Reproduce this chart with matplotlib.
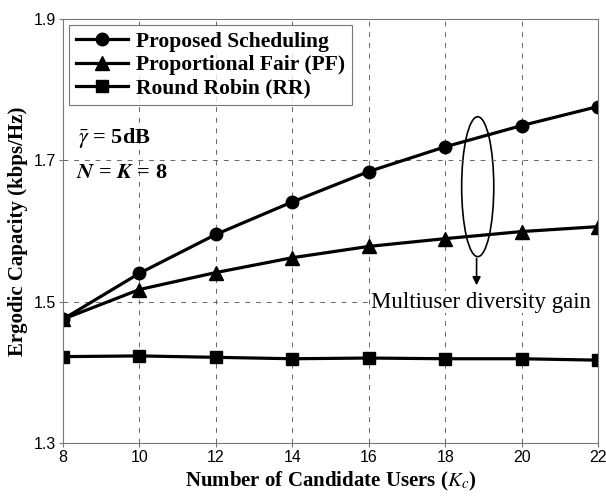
import matplotlib
matplotlib.use('Agg')
import matplotlib.pyplot as plt
from matplotlib.patches import Ellipse

# data
users = [8, 10, 12, 14, 16, 18, 20, 22]
proposed = [1.475, 1.540, 1.595, 1.641, 1.684, 1.719, 1.749, 1.776]
pf = [1.475, 1.517, 1.541, 1.562, 1.578, 1.589, 1.599, 1.606]
rr = [1.422, 1.423, 1.421, 1.419, 1.420, 1.419, 1.419, 1.417]
yticks = [1.3, 1.5, 1.7, 1.9]

serif = 'Liberation Serif'
sans = 'Liberation Sans'
plt.rcParams['mathtext.fontset'] = 'stix'

fig = plt.figure(figsize=(6.06, 4.97), dpi=100)
ax = fig.add_axes([0.104, 0.109, 0.883, 0.853])

ax.plot(users, proposed, 'k-', marker='o', ms=9, lw=2.3, label='Proposed Scheduling')
ax.plot(users, pf, 'k-', marker='^', ms=9.5, lw=2.3, label='Proportional Fair (PF)')
ax.plot(users, rr, 'k-', marker='s', ms=9, lw=2.3, label='Round Robin (RR)')

ax.set_xlim(8, 22)
ax.set_ylim(1.3, 1.9)
ax.set_xticks(users)
ax.set_yticks(yticks)
ax.set_yticklabels([f'{v:.1f}' for v in yticks])
ax.grid(True, color='#666666', linestyle=(0, (5, 6)), lw=0.7)
for s in ax.spines.values():
    s.set_color('#777777')
    s.set_linewidth(0.8)
ax.tick_params(length=3, color='#777777', labelsize=11.5, pad=2)
for lab in ax.get_xticklabels() + ax.get_yticklabels():
    lab.set_fontfamily(sans)

ax.set_xlabel('Number of Candidate Users ($\\boldsymbol{K_c}$)', fontfamily=serif,
              fontweight='bold', fontsize=15, labelpad=4)
ax.set_ylabel('Ergodic Capacity (kbps/Hz)', fontfamily=serif, fontweight='bold',
              fontsize=15, labelpad=4)

leg = ax.legend(loc='upper left', bbox_to_anchor=(0.012, 0.985),
                prop={'family': serif, 'weight': 'bold', 'size': 15.5},
                fancybox=False, edgecolor='#555555', handlelength=2.4, borderpad=0.3,
                labelspacing=0.15, handletextpad=0.4, borderaxespad=0)
leg.get_frame().set_linewidth(0.8)

ax.text(8.4, 1.732, '$\\bar{\\gamma}$ = 5dB', fontfamily=serif, fontweight='bold',
        fontsize=16, va='center')
ax.text(8.35, 1.682, '$\\boldsymbol{N}$ = $\\boldsymbol{K}$ = 8', fontfamily=serif,
        fontweight='bold', fontsize=16, va='center')

# multiuser diversity annotation
ax.add_patch(Ellipse((18.85, 1.6625), 0.84, 0.198, fill=False, ec='k', lw=1.2))
ax.annotate('', xy=(18.82, 1.519), xytext=(18.82, 1.565),
            arrowprops=dict(arrowstyle='-|>', color='k', lw=1.2, mutation_scale=12))
ax.text(21.82, 1.499, 'Multiuser diversity gain', fontfamily=serif, fontsize=16.5,
        va='center', ha='right', bbox=dict(fc='white', ec='none', pad=0.5))

fig.savefig('out.png', dpi=100)
